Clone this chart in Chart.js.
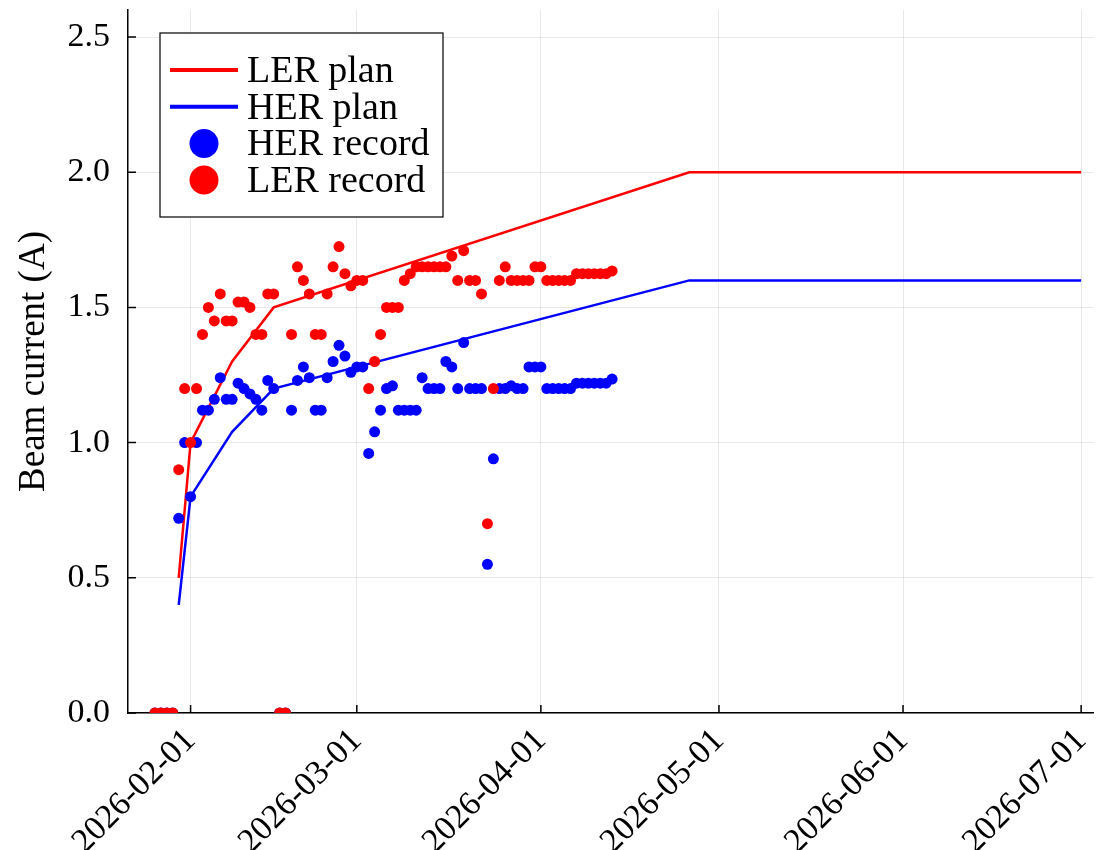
<!DOCTYPE html>
<html>
<head>
<meta charset="utf-8">
<script src="https://cdn.jsdelivr.net/npm/chart.js@4.4.1/dist/chart.umd.min.js"></script>
<style>
  html, body { margin: 0; padding: 0; background: #fff; }
  canvas { display: block; }
</style>
</head>
<body>
<canvas id="beam" width="1099" height="850"></canvas>
<script>
// plan curves (vertices)
const planDates = ['2026-01-30', '2026-02-01', '2026-02-08', '2026-02-15', '2026-04-26', '2026-07-01'];
const lerPlan = [0.5, 1.0, 1.3, 1.5, 2.0, 2.0];
const herPlan = [0.4, 0.8, 1.04, 1.2, 1.6, 1.6];

// daily records
const recordDates = [
  '2026-01-26', '2026-01-27', '2026-01-28', '2026-01-29', '2026-01-30', '2026-01-31',
  '2026-02-01', '2026-02-02', '2026-02-03', '2026-02-04', '2026-02-05', '2026-02-06',
  '2026-02-07', '2026-02-08', '2026-02-09', '2026-02-10', '2026-02-11', '2026-02-12',
  '2026-02-13', '2026-02-14', '2026-02-15', '2026-02-16', '2026-02-17', '2026-02-18',
  '2026-02-19', '2026-02-20', '2026-02-21', '2026-02-22', '2026-02-23', '2026-02-24',
  '2026-02-25', '2026-02-26', '2026-02-27', '2026-02-28', '2026-03-01', '2026-03-02',
  '2026-03-03', '2026-03-04', '2026-03-05', '2026-03-06', '2026-03-07', '2026-03-08',
  '2026-03-09', '2026-03-10', '2026-03-11', '2026-03-12', '2026-03-13', '2026-03-14',
  '2026-03-15', '2026-03-16', '2026-03-17', '2026-03-18', '2026-03-19', '2026-03-20',
  '2026-03-21', '2026-03-22', '2026-03-23', '2026-03-24', '2026-03-25', '2026-03-26',
  '2026-03-27', '2026-03-28', '2026-03-29', '2026-03-30', '2026-03-31', '2026-04-01',
  '2026-04-02', '2026-04-03', '2026-04-04', '2026-04-05', '2026-04-06', '2026-04-07',
  '2026-04-08', '2026-04-09', '2026-04-10', '2026-04-11', '2026-04-12', '2026-04-13'
];
const herRecord = [
  0, 0, 0, 0, 0.72, 1.00,
  0.80, 1.00, 1.12, 1.12, 1.16, 1.24,
  1.16, 1.16, 1.22, 1.20, 1.18, 1.16,
  1.12, 1.23, 1.20, 0, 0, 1.12,
  1.23, 1.28, 1.24, 1.12, 1.12, 1.24,
  1.30, 1.36, 1.32, 1.26, 1.28, 1.28,
  0.96, 1.04, 1.12, 1.20, 1.21, 1.12,
  1.12, 1.12, 1.12, 1.24, 1.20, 1.20,
  1.20, 1.30, 1.28, 1.20, 1.37, 1.20,
  1.20, 1.20, 0.55, 0.94, 1.20, 1.20,
  1.21, 1.20, 1.20, 1.28, 1.28, 1.28,
  1.20, 1.20, 1.20, 1.20, 1.20, 1.22,
  1.22, 1.22, 1.22, 1.22, 1.22, 1.235
];
const lerRecord = [
  0, 0, 0, 0, 0.90, 1.20,
  1.00, 1.20, 1.40, 1.50, 1.45, 1.55,
  1.45, 1.45, 1.52, 1.52, 1.50, 1.40,
  1.40, 1.55, 1.55, 0, 0, 1.40,
  1.65, 1.60, 1.55, 1.40, 1.40, 1.55,
  1.65, 1.725, 1.625, 1.58, 1.60, 1.60,
  1.20, 1.30, 1.40, 1.50, 1.50, 1.50,
  1.60, 1.625, 1.65, 1.65, 1.65, 1.65,
  1.65, 1.65, 1.69, 1.60, 1.71, 1.60,
  1.60, 1.55, 0.70, 1.20, 1.60, 1.65,
  1.60, 1.60, 1.60, 1.60, 1.65, 1.65,
  1.60, 1.60, 1.60, 1.60, 1.60, 1.625,
  1.625, 1.625, 1.625, 1.625, 1.625, 1.635
];

const xTickLabels = ['2026-02-01', '2026-03-01', '2026-04-01', '2026-05-01', '2026-06-01', '2026-07-01'];
const yTickValues = [0.0, 0.5, 1.0, 1.5, 2.0, 2.5];

const serif = '"Liberation Serif", "DejaVu Serif", serif';
const toPoints = (dates, vals) => dates.map((d, i) => ({ x: Date.parse(d), y: vals[i] }));

// inward tick marks, like the original plot
const innerTicks = {
    id: 'innerTicks',
    afterDatasetsDraw(chart) {
        const { ctx, chartArea, scales } = chart;
        ctx.save();
        ctx.strokeStyle = '#000';
        ctx.lineWidth = 1.5;
        ctx.beginPath();
        scales.x.ticks.forEach((t, i) => {
            const px = scales.x.getPixelForTick(i);
            ctx.moveTo(px, chartArea.bottom);
            ctx.lineTo(px, chartArea.bottom - 8);
        });
        scales.y.ticks.forEach((t, i) => {
            const py = scales.y.getPixelForTick(i);
            ctx.moveTo(chartArea.left, py);
            ctx.lineTo(chartArea.left + 8, py);
        });
        ctx.stroke();
        ctx.restore();
    }
};

// boxed legend in the upper left corner of the plot
const boxLegend = {
    id: 'boxLegend',
    afterDraw(chart) {
        const ctx = chart.ctx;
        const x0 = 160, y0 = 33, w = 283, h = 184;
        ctx.save();
        ctx.fillStyle = '#fff';
        ctx.fillRect(x0, y0, w, h);
        ctx.strokeStyle = '#000';
        ctx.lineWidth = 1.2;
        ctx.strokeRect(x0, y0, w, h);
        ctx.font = '38px ' + serif;
        ctx.textBaseline = 'middle';
        ctx.textAlign = 'left';
        chart.data.datasets.forEach((ds, i) => {
            const cy = y0 + 37 + i * 36.7;
            if (ds.showLine) {
                ctx.strokeStyle = ds.borderColor;
                ctx.lineWidth = 4;
                ctx.beginPath();
                ctx.moveTo(x0 + 10, cy);
                ctx.lineTo(x0 + 78, cy);
                ctx.stroke();
            } else {
                ctx.fillStyle = ds.backgroundColor;
                ctx.beginPath();
                ctx.arc(x0 + 44, cy, 14.5, 0, Math.PI * 2);
                ctx.fill();
            }
            ctx.fillStyle = '#000';
            ctx.fillText(ds.label, x0 + 87, cy + 2);
        });
        ctx.restore();
    }
};

new Chart(document.getElementById('beam').getContext('2d'), {
    type: 'scatter',
    data: {
        datasets: [
            { label: 'LER plan', data: toPoints(planDates, lerPlan), showLine: true, borderColor: '#ff0000', backgroundColor: '#ff0000', borderWidth: 2.5, pointRadius: 0, order: 4 },
            { label: 'HER plan', data: toPoints(planDates, herPlan), showLine: true, borderColor: '#0000ff', backgroundColor: '#0000ff', borderWidth: 2.5, pointRadius: 0, order: 3 },
            { label: 'HER record', data: toPoints(recordDates, herRecord), showLine: false, borderColor: '#0000ff', backgroundColor: '#0000ff', borderWidth: 0, pointRadius: 5.5, order: 2 },
            { label: 'LER record', data: toPoints(recordDates, lerRecord), showLine: false, borderColor: '#ff0000', backgroundColor: '#ff0000', borderWidth: 0, pointRadius: 5.5, order: 1 }
        ]
    },
    options: {
        responsive: false,
        animation: false,
        layout: { padding: { top: 10, left: 0, right: 0, bottom: 0 } },
        plugins: { legend: { display: false }, tooltip: { enabled: false } },
        scales: {
            x: {
                type: 'linear',
                min: Date.UTC(2026, 0, 21, 11),
                max: Date.UTC(2026, 6, 3, 2),
                afterBuildTicks: s => { s.ticks = xTickLabels.map(d => ({ value: Date.parse(d) })); },
                afterFit: s => { s.height = 137; s.paddingLeft = 0; s.paddingRight = 0; },
                ticks: {
                    minRotation: 45, maxRotation: 45, padding: 8, color: '#000',
                    font: { family: serif, size: 34 },
                    callback: v => new Date(v).toISOString().slice(0, 10)
                },
                grid: { color: 'rgba(0,0,0,0.09)', lineWidth: 1, drawTicks: false },
                border: { color: '#000', width: 1.5 }
            },
            y: {
                min: 0,
                max: 2.6,
                afterBuildTicks: s => { s.ticks = yTickValues.map(v => ({ value: v })); },
                afterFit: s => { s.width = 128; s.paddingTop = 0; s.paddingBottom = 0; },
                ticks: {
                    padding: 18, color: '#000',
                    font: { family: serif, size: 34 },
                    callback: v => v.toFixed(1)
                },
                title: { display: true, text: 'Beam current (A)', color: '#000', font: { family: serif, size: 37 }, padding: { top: 12, bottom: 0 } },
                grid: { color: 'rgba(0,0,0,0.09)', lineWidth: 1, drawTicks: false },
                border: { color: '#000', width: 1.5 }
            }
        }
    },
    plugins: [innerTicks, boxLegend]
});
</script>
</body>
</html>
